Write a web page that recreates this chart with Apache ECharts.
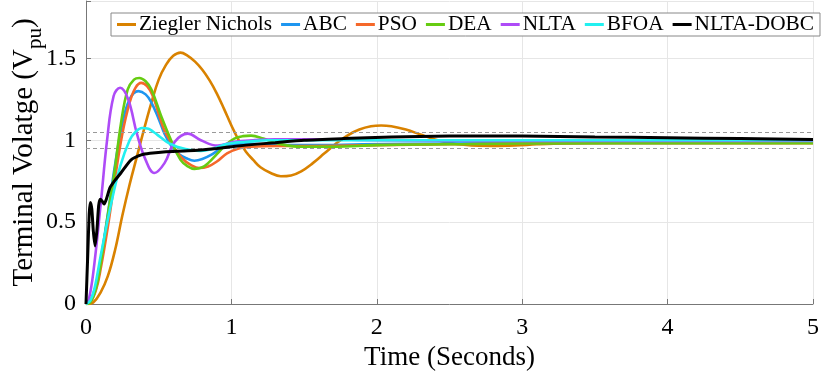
<!DOCTYPE html>
<html>
<head>
    <meta charset="utf-8">
    <title>Terminal voltage response</title>
    <script src="https://cdn.jsdelivr.net/npm/echarts@6/dist/echarts.min.js"></script>
    <style>
        body { margin: 0; background: #fff; }
        #main { width: 830px; height: 380px; }
    </style>
</head>
<body>
    <div id="main"></div>
    <script type="text/javascript">
        // [time (s), voltage (pu)]
        var zieglerNichols = [[0,0],[0.05,0.01],[0.1,0.07],[0.15,0.17],[0.2,0.33],[0.25,0.54],[0.3,0.73],[0.35,0.9],[0.4,1.07],[0.45,1.23],[0.5,1.37],[0.55,1.46],[0.6,1.515],[0.65,1.535],[0.7,1.515],[0.75,1.48],[0.8,1.43],[0.85,1.365],[0.9,1.285],[0.95,1.19],[1.0,1.09],[1.05,1.0],[1.1,0.93],[1.15,0.88],[1.2,0.835],[1.27,0.8],[1.34,0.78],[1.41,0.785],[1.48,0.81],[1.56,0.86],[1.64,0.92],[1.72,0.98],[1.8,1.03],[1.88,1.065],[1.96,1.085],[2.03,1.09],[2.1,1.085],[2.2,1.065],[2.3,1.035],[2.4,1.005],[2.5,0.985],[2.6,0.972],[2.7,0.966],[2.8,0.965],[2.95,0.968],[3.1,0.975],[3.3,0.982],[3.6,0.988],[4.0,0.99],[5,0.99]];
        var abc = [[0,0],[0.03,0.02],[0.07,0.12],[0.1,0.26],[0.15,0.55],[0.2,0.85],[0.25,1.1],[0.3,1.25],[0.36,1.3],[0.41,1.28],[0.45,1.23],[0.5,1.13],[0.54,1.04],[0.59,0.96],[0.63,0.92],[0.69,0.89],[0.745,0.875],[0.8,0.885],[0.86,0.91],[0.93,0.95],[1.0,0.975],[1.1,0.98],[1.25,0.975],[1.4,0.97],[1.6,0.97],[1.9,0.975],[2.5,0.98],[3.5,0.983],[5,0.985]];
        var pso = [[0,0],[0.03,0.01],[0.07,0.09],[0.1,0.21],[0.15,0.47],[0.2,0.77],[0.25,1.04],[0.3,1.23],[0.34,1.32],[0.38,1.35],[0.42,1.33],[0.46,1.27],[0.53,1.08],[0.57,1.01],[0.61,0.95],[0.66,0.89],[0.72,0.85],[0.78,0.83],[0.84,0.84],[0.9,0.87],[0.97,0.92],[1.05,0.95],[1.135,0.96],[1.3,0.965],[1.5,0.965],[2,0.97],[2.5,0.975],[3,0.98],[5,0.982]];
        var dea = [[0,0],[0.03,0.01],[0.07,0.1],[0.1,0.24],[0.125,0.39],[0.16,0.6],[0.195,0.8],[0.24,1.1],[0.287,1.31],[0.33,1.37],[0.367,1.38],[0.41,1.36],[0.45,1.31],[0.52,1.14],[0.585,1.0],[0.65,0.88],[0.7,0.84],[0.745,0.825],[0.8,0.835],[0.84,0.86],[0.905,0.92],[0.96,0.97],[1.02,1.01],[1.08,1.025],[1.135,1.028],[1.22,1.01],[1.32,0.98],[1.48,0.96],[1.7,0.96],[2.0,0.97],[2.5,0.975],[3,0.98],[5,0.982]];
        var nlta = [[0,0],[0.02,0.03],[0.05,0.19],[0.1,0.6],[0.145,1.0],[0.19,1.27],[0.235,1.32],[0.29,1.25],[0.35,1.04],[0.41,0.88],[0.47,0.8],[0.54,0.86],[0.61,0.99],[0.7,1.04],[0.79,1.0],[0.905,0.967],[1.02,0.99],[1.15,1.0],[1.3,1.005],[1.6,1.005],[2,1.0],[3,0.995],[5,0.995]];
        var bfoa = [[0,0],[0.03,0.02],[0.06,0.1],[0.1,0.29],[0.17,0.6],[0.235,0.84],[0.3,1.0],[0.34,1.05],[0.385,1.075],[0.43,1.07],[0.465,1.05],[0.51,1.02],[0.555,0.99],[0.6,0.97],[0.645,0.955],[0.72,0.94],[0.79,0.935],[0.88,0.95],[0.96,0.975],[1.02,0.985],[1.1,0.99],[1.25,1.0],[1.5,1.0],[2,1.0],[3,1.0],[5,1.0]];
        var nltaDobc = [[0,0],[0.012,0.3],[0.022,0.55],[0.03,0.62],[0.04,0.58],[0.05,0.45],[0.062,0.355],[0.075,0.45],[0.087,0.6],[0.098,0.64],[0.11,0.63],[0.125,0.61],[0.14,0.64],[0.165,0.71],[0.195,0.75],[0.24,0.8],[0.31,0.88],[0.38,0.91],[0.44,0.92],[0.55,0.93],[0.7,0.935],[0.9,0.95],[1.1,0.97],[1.3,0.985],[1.5,1.0],[1.77,1.01],[2.1,1.02],[2.5,1.025],[3.0,1.025],[3.5,1.02],[4.0,1.015],[4.5,1.01],[5,1.005]];

        var bandLimits = [1.05, 0.95];
        var seriesNames = ['Ziegler Nichols', 'ABC', 'PSO', 'DEA', 'NLTA', 'BFOA', 'NLTA-DOBC'];
        var seriesData = [zieglerNichols, abc, pso, dea, nlta, bfoa, nltaDobc];
        var seriesColors = ['#D98200', '#1E96F0', '#F5682A', '#66CC11', '#AE4BF7', '#22F0F0', '#000000'];

        var font = "'Liberation Serif', 'Times New Roman', serif";
        var myChart = echarts.init(document.getElementById('main'));

        var series = seriesNames.map(function (name, i) {
            var s = {
                name: name,
                type: 'line',
                data: seriesData[i],
                showSymbol: false,
                symbol: 'none',
                smooth: i === 6 ? 0.2 : 0.4,
                lineStyle: { color: seriesColors[i], width: i === 6 ? 3 : 2.6 },
                itemStyle: { color: seriesColors[i] },
                z: 2 + i
            };
            if (i === 0) {
                s.markLine = {
                    silent: true,
                    symbol: 'none',
                    label: { show: false },
                    lineStyle: { color: '#999', type: [4, 3], width: 1 },
                    data: bandLimits.map(function (v) { return { yAxis: v }; })
                };
            }
            return s;
        });

        var option = {
            animation: false,
            backgroundColor: '#fff',
            textStyle: { fontFamily: font },
            grid: { left: 86, right: 17, top: 1, bottom: 76, outerBoundsMode: 'none', containLabel: false },
            legend: {
                left: 111,
                top: 13,
                data: seriesNames,
                icon: 'rect',
                backgroundColor: '#fff',
                borderColor: '#888',
                borderWidth: 1,
                borderRadius: 0,
                padding: [1, 6],
                itemGap: 9,
                itemWidth: 19,
                itemHeight: 3,
                textStyle: { fontFamily: font, fontSize: 21.3, color: '#000', padding: [0, 0, 0, -2] }
            },
            xAxis: {
                type: 'value',
                min: 0,
                max: 5,
                interval: 1,
                name: 'Time (Seconds)',
                nameLocation: 'middle',
                nameGap: 40,
                nameMoveOverlap: false,
                nameTextStyle: { fontFamily: font, fontSize: 27, color: '#000' },
                axisLine: { show: true, lineStyle: { color: '#777' } },
                axisTick: { show: true, inside: true, length: 5, lineStyle: { color: '#777' } },
                axisLabel: { fontFamily: font, fontSize: 24, color: '#000', margin: 12 },
                splitLine: { show: true, lineStyle: { color: '#e6e6e6' } }
            },
            yAxis: {
                type: 'value',
                min: 0,
                max: 1.85,
                interval: 0.5,
                name: 'Terminal Volatge (V{s|pu})',
                nameLocation: 'middle',
                nameRotate: 90,
                nameGap: 40,
                nameMoveOverlap: false,
                nameTextStyle: {
                    fontFamily: font, fontSize: 29, color: '#000',
                    rich: {
                        s: { fontFamily: font, fontSize: 21, color: '#000', padding: [22, 0, 0, 0] }
                    }
                },
                axisLine: { show: true, lineStyle: { color: '#777' } },
                axisTick: { show: true, inside: true, length: 5, lineStyle: { color: '#777' } },
                axisLabel: {
                    fontFamily: font, fontSize: 24, color: '#000', margin: 10,
                    formatter: function (v) {
                        return Math.abs(v * 2 - Math.round(v * 2)) < 1e-6 ? String(v) : '';
                    }
                },
                splitLine: { show: true, lineStyle: { color: '#e6e6e6' } }
            },
            series: series
        };

        myChart.setOption(option);
    </script>
</body>
</html>
